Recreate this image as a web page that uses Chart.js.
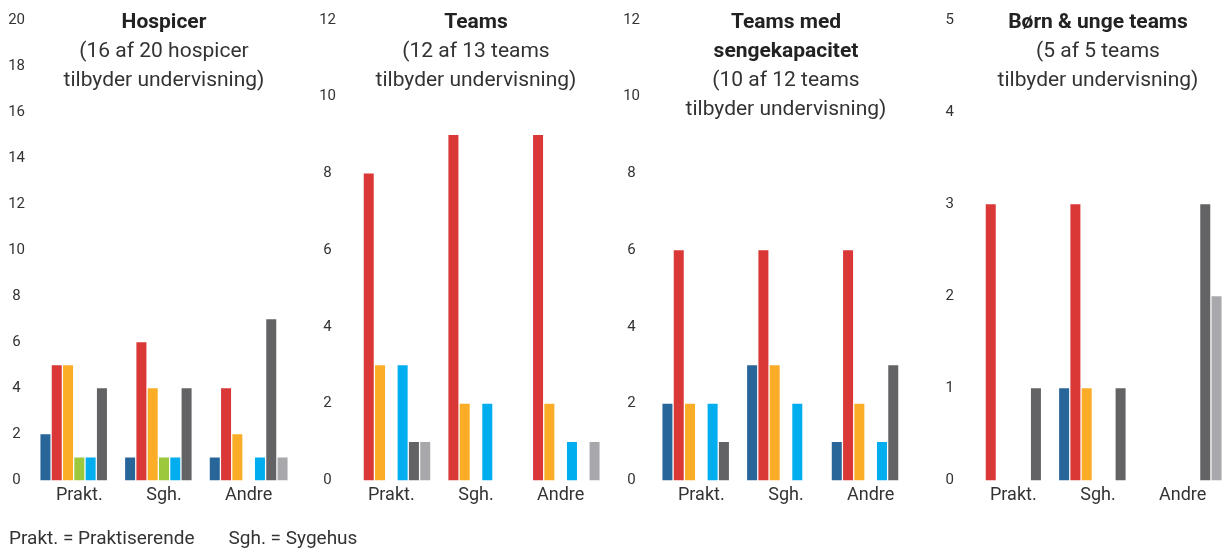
<!DOCTYPE html>
<html>
<head>
<meta charset="utf-8">
<script src="https://cdn.jsdelivr.net/npm/chart.js@4"></script>
<style>
  html, body { margin: 0; padding: 0; background: #fff; overflow: hidden; }
  body { width: 1222px; height: 549px; position: relative; font-family: Roboto, sans-serif; }
  .panel { position: absolute; top: 0; width: 291px; height: 549px; }
  .title { position: absolute; top: 7px; width: 254px; text-align: center; font-size: 21px; line-height: 29px; color: #333; white-space: nowrap; }
  .title b { color: #222; }
  .note { position: absolute; top: 526px; left: 9px; font-size: 19px; color: #333; }
</style>
</head>
<body>

<div class="panel" style="left:0px"><canvas id="c0"></canvas></div>
<div class="panel" style="left:312px"><canvas id="c1"></canvas></div>
<div class="panel" style="left:622px"><canvas id="c2"></canvas></div>
<div class="panel" style="left:934px"><canvas id="c3"></canvas></div>

<div class="title" style="left:37px"><b>Hospicer</b><br>(16 af 20 hospicer<br>tilbyder undervisning)</div>
<div class="title" style="left:349px"><b>Teams</b><br>(12 af 13 teams<br>tilbyder undervisning)</div>
<div class="title" style="left:659px"><b>Teams med<br>sengekapacitet</b><br>(10 af 12 teams<br>tilbyder undervisning)</div>
<div class="title" style="left:971px"><b>Børn &amp; unge teams</b><br>(5 af 5 teams<br>tilbyder undervisning)</div>

<div class="note">Prakt. = Praktiserende<span style="display:inline-block;width:34px"></span>Sgh. = Sygehus</div>

<script>
const categories = ["Prakt.", "Sgh.", "Andre"];
const seriesColors = ["#286599", "#da3737", "#fbad27", "#9bc83c", "#00adee", "#636366", "#a8a8ac"];

// one row per series (same order as colours), one value per category
const hospicerValues = [
  [2, 1, 1],
  [5, 6, 4],
  [5, 4, 2],
  [1, 1, 0],
  [1, 1, 1],
  [4, 4, 7],
  [0, 0, 1]
];
const teamsValues = [
  [0, 0, 0],
  [8, 9, 9],
  [3, 2, 2],
  [0, 0, 0],
  [3, 2, 1],
  [1, 0, 0],
  [1, 0, 1]
];
const sengValues = [
  [2, 3, 1],
  [6, 6, 6],
  [2, 3, 2],
  [0, 0, 0],
  [2, 2, 1],
  [1, 0, 3],
  [0, 0, 0]
];
const boernValues = [
  [0, 1, 0],
  [3, 3, 0],
  [0, 1, 0],
  [0, 0, 0],
  [0, 0, 0],
  [1, 1, 3],
  [0, 0, 2]
];

const yMax = [20, 12, 12, 5];
const yStep = [2, 2, 2, 1];
const tickPad = [12, 13, 19, 17];

function makePanel(id, values, i) {
  const ctx = document.getElementById(id).getContext("2d");
  return new Chart(ctx, {
    type: "bar",
    data: {
      labels: categories,
      datasets: values.map((row, k) => ({
        data: row,
        backgroundColor: seriesColors[k],
        borderWidth: 0,
        categoryPercentage: 0.934,
        barPercentage: 0.885
      }))
    },
    options: {
      responsive: false,
      animation: false,
      layout: { padding: { top: 20, bottom: 39, left: 0, right: 0 } },
      plugins: { legend: { display: false }, tooltip: { enabled: false } },
      scales: {
        x: {
          grid: { display: false, drawTicks: false },
          border: { display: false },
          ticks: { color: "#333", font: { family: "Roboto", size: 18 }, padding: 4, maxRotation: 0 }
        },
        y: {
          min: 0,
          max: yMax[i],
          grid: { display: false, drawTicks: false },
          border: { display: false },
          afterFit: function(scale) {
            // fixed axis width; tick padding should not push the plot top down
            scale.width = 37;
            scale.paddingTop = 0;
            scale.paddingBottom = 0;
          },
          ticks: {
            stepSize: yStep[i],
            color: "#333",
            crossAlign: "center",
            padding: tickPad[i],
            font: { family: "Roboto", size: 15 }
          }
        }
      }
    }
  });
}

[hospicerValues, teamsValues, sengValues, boernValues].forEach((v, i) => {
  const c = document.getElementById("c" + i);
  c.width = 291;
  c.height = 549;
  makePanel("c" + i, v, i);
});
</script>
</body>
</html>
